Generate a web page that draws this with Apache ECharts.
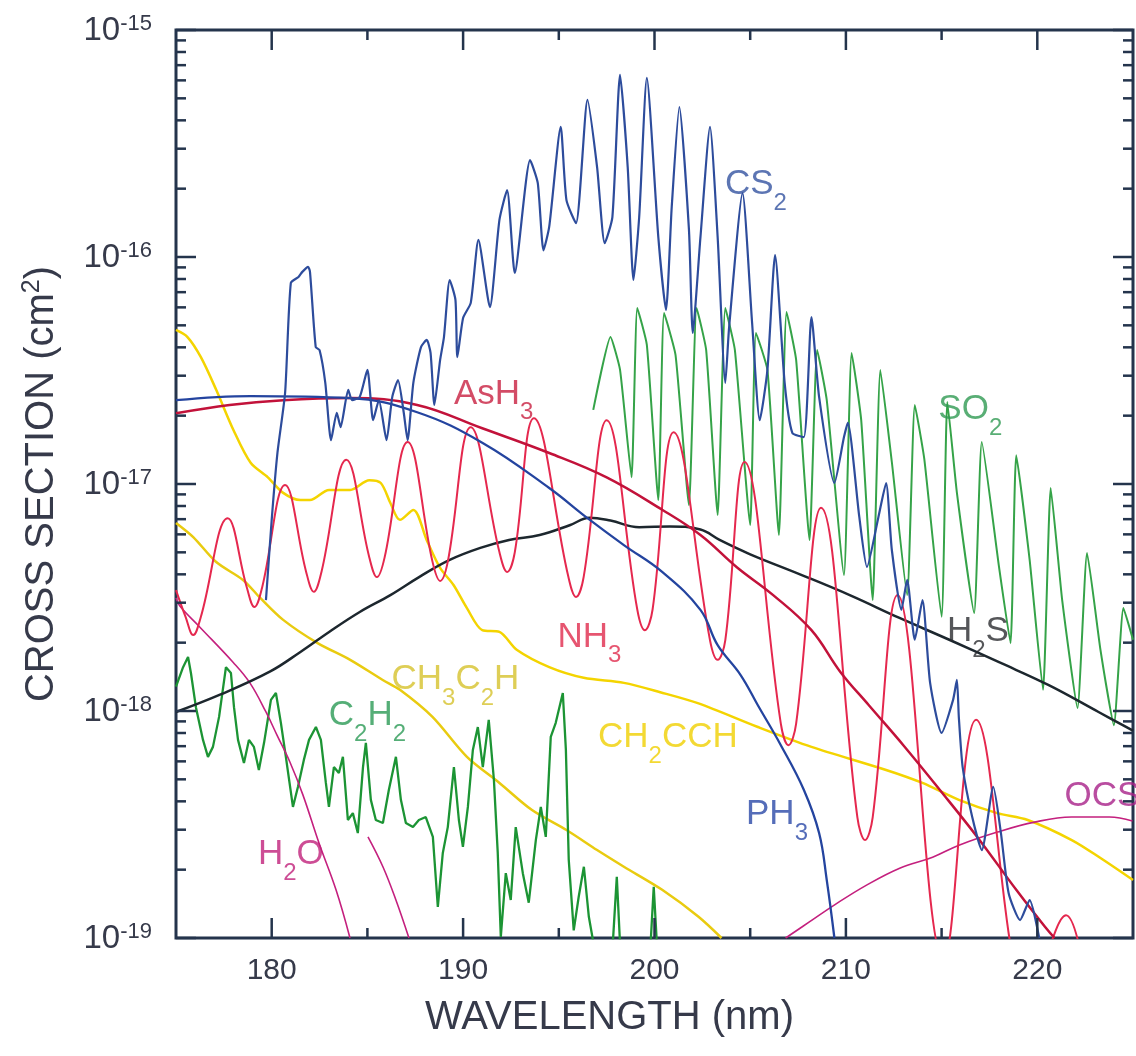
<!DOCTYPE html>
<html>
<head>
<meta charset="utf-8">
<script src="https://cdn.jsdelivr.net/npm/echarts@6/dist/echarts.min.js"></script>
<style>
  html, body { margin: 0; padding: 0; background: #ffffff; }
  #chart { width: 1136px; height: 1056px; }
</style>
</head>
<body>
<div id="chart"></div>
<script>
// Absorption cross sections, [wavelength (nm), cross section (cm^2)]
const cs2 = [[179.7,3.08e-18],[180.0,6.95e-18],[180.3,1.37e-17],[180.7,2.52e-17],[181.0,7.69e-17],[181.4,8.17e-17],[181.6,8.6e-17],[181.9,9.05e-17],[182.0,8.6e-17],[182.3,4.01e-17],[182.5,3.89e-17],[182.8,2.79e-17],[183.1,1.56e-17],[183.4,2.06e-17],[183.6,1.78e-17],[184.0,2.60e-17],[184.2,2.34e-17],[184.6,2.42e-17],[185.0,3.18e-17],[185.3,1.91e-17],[185.6,2.34e-17],[186.0,1.56e-17],[186.3,2.42e-17],[186.6,2.87e-17],[186.9,2.06e-17],[187.1,1.56e-17],[187.4,2.79e-17],[187.8,4.01e-17],[188.1,4.31e-17],[188.3,3.78e-17],[188.5,2.23e-17],[188.8,3.52e-17],[189.0,4.44e-17],[189.3,7.92e-17],[189.6,6.47e-17],[189.7,3.62e-17],[190.0,5.39e-17],[190.4,6.28e-17],[190.8,1.19e-16],[191.4,6.02e-17],[191.9,1.46e-16],[192.3,1.97e-16],[192.7,8.5e-17],[193.5,2.67e-16],[193.9,2.12e-16],[194.2,1.07e-16],[194.5,1.36e-16],[195.1,3.74e-16],[195.4,1.78e-16],[195.9,1.41e-16],[196.5,4.92e-16],[197.0,2.49e-16],[197.4,1.15e-16],[197.8,1.50e-16],[198.2,6.34e-16],[198.6,2.49e-16],[198.9,7.92e-17],[199.2,1.50e-16],[199.6,6.15e-16],[200.2,1.22e-16],[200.6,5.84e-17],[200.9,1.66e-16],[201.3,4.58e-16],[201.8,1.32e-16],[202.0,4.63e-17],[202.4,1.22e-16],[202.9,3.74e-16],[203.3,1.22e-16],[203.7,2.79e-17],[203.9,4.92e-17],[204.6,1.91e-16],[205.1,5.12e-17],[205.5,1.91e-17],[205.9,3.18e-17],[206.3,1.02e-16],[206.8,2.79e-17],[207.2,1.68e-17],[207.8,1.61e-17],[208.2,5.44e-17],[208.6,2.42e-17],[209.4,1.01e-17],[209.9,1.61e-17],[210.1,1.86e-17],[210.7,7.16e-18],[211.1,4.31e-18],[211.7,7.16e-18],[212.1,1.01e-17],[212.4,5.12e-18],[212.9,2.79e-18],[213.2,3.78e-18],[213.6,2.06e-18],[214.0,3.08e-18],[214.4,1.33e-18],[215.0,8.01e-19],[215.6,1.12e-18],[215.8,1.37e-18],[215.9,9.4e-19],[216.1,5.66e-19],[216.6,3.41e-19],[217.1,2.44e-19],[217.7,4.63e-19],[218.1,2.90e-19],[218.5,1.58e-19],[219.1,1.20e-19],[219.6,1.47e-19],[220.1,1.0e-19]];

const so2 = [[196.8,2.12e-17],[197.7,4.44e-17],[198.2,3.18e-17],[198.8,1.07e-17],[199.1,5.96e-17],[199.6,4.10e-17],[200.2,8.5e-18],[200.5,5.66e-17],[201.1,3.70e-17],[201.8,8.08e-18],[202.2,5.96e-17],[202.7,3.89e-17],[203.3,7.30e-18],[203.7,5.96e-17],[204.2,3.89e-17],[205.0,6.6e-18],[205.3,4.63e-17],[205.9,3.18e-17],[206.5,5.96e-18],[206.9,5.72e-17],[207.4,3.52e-17],[208.1,5.66e-18],[208.5,3.89e-17],[209.0,2.34e-17],[209.9,3.97e-18],[210.3,3.78e-17],[210.8,1.91e-17],[211.4,3.08e-18],[211.8,3.18e-17],[212.4,1.25e-17],[213.2,3.24e-18],[213.6,2.23e-17],[214.1,1.28e-17],[215.0,2.60e-18],[215.3,2.30e-17],[215.8,9.14e-18],[216.7,2.70e-18],[217.1,1.53e-17],[218.0,4.31e-18],[218.6,1.99e-18],[218.9,1.34e-17],[219.6,4.63e-18],[220.3,1.24e-18],[220.7,9.6e-18],[221.3,3.08e-18],[222.1,1.03e-18],[222.6,4.97e-18],[223.3,1.86e-18],[224.0,8.66e-19],[224.5,2.84e-18],[225.0,2.06e-18]];

const ash3 = [[175.0,2.05e-17],[177.8,2.23e-17],[180.6,2.34e-17],[184.1,2.39e-17],[187.6,2.23e-17],[191.0,1.76e-17],[194.5,1.37e-17],[197.5,1.07e-17],[200.4,7.7e-18],[202.4,5.96e-18],[204.3,4.3e-18],[206.2,3.24e-18],[208.2,2.27e-18],[209.7,1.49e-18],[211.2,1.06e-18],[213.0,7.07e-19],[214.9,4.5e-19],[216.9,2.76e-19],[218.9,1.63e-19],[220.4,1.12e-19],[220.9,1.0e-19]];

const ph3 = [[175.0,2.34e-17],[178.9,2.44e-17],[184.1,2.39e-17],[187.6,2.07e-17],[191.0,1.52e-17],[194.5,9.6e-18],[196.5,7.07e-18],[198.4,5.38e-18],[200.4,4.1e-18],[202.4,2.79e-18],[203.3,1.95e-18],[204.5,1.44e-18],[205.4,1.06e-18],[206.6,7.07e-19],[207.8,4.5e-19],[208.6,2.9e-19],[209.0,1.8e-19],[209.4,1.0e-19]];

const nh3 = [[175.0,3.41e-18],[175.5,2.6e-18],[175.9,2.16e-18],[176.3,2.6e-18],[177.7,7.07e-18],[178.7,3.5e-18],[179.1,2.87e-18],[179.5,3.5e-18],[180.7,9.9e-18],[181.8,4.1e-18],[182.2,3.35e-18],[182.6,4.1e-18],[183.9,1.28e-17],[185.1,4.75e-18],[185.5,3.89e-18],[185.9,4.75e-18],[187.1,1.53e-17],[188.4,4.55e-18],[188.8,3.74e-18],[189.2,4.55e-18],[190.4,1.78e-17],[191.9,5.0e-18],[192.3,4.10e-18],[192.7,5.0e-18],[193.7,1.95e-17],[195.5,3.9e-18],[195.9,3.18e-18],[196.3,3.9e-18],[197.5,1.91e-17],[199.1,2.8e-18],[199.5,2.27e-18],[199.9,2.8e-18],[201.0,1.69e-17],[202.9,2.05e-18],[203.3,1.68e-18],[203.7,2.05e-18],[204.7,1.25e-17],[206.6,8.8e-19],[207.0,7.07e-19],[207.4,8.8e-19],[208.7,7.85e-18],[210.6,3.4e-19],[211.0,2.70e-19],[211.4,3.4e-19],[212.7,3.24e-18],[215.1,8.0e-20],[216.8,9.14e-19],[219.6,5.3e-20],[221.5,1.26e-19],[222.7,5.3e-20]];

const h2s = [[175.0,9.9e-19],[177.3,1.18e-18],[179.9,1.49e-18],[181.5,1.82e-18],[183.0,2.23e-18],[184.6,2.73e-18],[186.2,3.24e-18],[187.7,3.89e-18],[189.3,4.63e-18],[190.9,5.23e-18],[192.4,5.67e-18],[194.0,5.96e-18],[195.6,6.6e-18],[196.6,7.1e-18],[197.7,6.9e-18],[199.2,6.45e-18],[200.8,6.5e-18],[202.4,6.3e-18],[203.4,5.67e-18],[205.0,4.9e-18],[207.6,4.0e-18],[210.2,3.24e-18],[212.8,2.57e-18],[215.4,2.06e-18],[218.0,1.64e-18],[220.6,1.30e-18],[223.2,9.9e-19],[225.0,8.2e-19]];

const ch2cch = [[175.0,4.77e-17],[175.6,4.44e-17],[176.3,3.62e-17],[177.1,2.60e-17],[178.0,1.73e-17],[178.9,1.24e-17],[179.8,1.07e-17],[180.6,9.14e-18],[181.5,8.5e-18],[182.0,8.5e-18],[183.0,9.42e-18],[184.1,9.42e-18],[185.1,1.04e-17],[185.7,1.01e-17],[186.2,8.25e-18],[186.7,6.95e-18],[187.4,7.69e-18],[188.1,5.66e-18],[188.8,4.27e-18],[189.5,3.59e-18],[190.2,2.84e-18],[191.0,2.27e-18],[191.9,2.23e-18],[192.8,1.86e-18],[194.5,1.56e-18],[196.3,1.40e-18],[198.4,1.33e-18],[200.3,1.21e-18],[202.3,1.08e-18],[205.4,8.5e-19],[208.2,6.95e-19],[212.1,5.5e-19],[214.0,4.82e-19],[215.9,4.06e-19],[217.9,3.55e-19],[219.5,3.31e-19],[221.8,2.70e-19],[223.3,2.25e-19],[225.0,1.80e-19]];

const ch3c2h = [[175.0,6.74e-18],[175.9,5.84e-18],[177.1,4.53e-18],[178.5,3.78e-18],[179.4,3.15e-18],[180.6,2.52e-18],[182.4,1.99e-18],[184.1,1.68e-18],[185.8,1.37e-18],[186.7,1.24e-18],[188.4,9.42e-19],[190.2,6.28e-19],[191.9,4.82e-19],[193.6,3.66e-19],[195.4,2.99e-19],[197.0,2.44e-19],[198.4,2.06e-19],[200.4,1.63e-19],[202.3,1.24e-19],[203.5,1.0e-19]];

const c2h2 = [[175.00,1.28e-18],[175.37,1.56e-18],[175.63,1.73e-18],[175.78,1.47e-18],[176.04,1.04e-18],[176.41,7.46e-19],[176.67,6.28e-19],[176.93,6.95e-19],[177.25,9.42e-19],[177.61,1.56e-18],[177.87,1.47e-18],[178.03,1.04e-18],[178.24,7.46e-19],[178.55,5.90e-19],[178.81,7.46e-19],[179.07,6.95e-19],[179.33,5.50e-19],[179.60,7.24e-19],[179.96,1.12e-18],[180.22,1.20e-18],[180.48,8.87e-19],[180.74,6.28e-19],[181.11,3.78e-19],[181.37,4.63e-19],[181.68,6.09e-19],[181.95,7.46e-19],[182.31,8.50e-19],[182.57,7.46e-19],[182.83,4.82e-19],[182.99,3.78e-19],[183.25,5.66e-19],[183.51,5.33e-19],[183.72,6.28e-19],[183.98,3.31e-19],[184.24,3.55e-19],[184.50,2.90e-19],[184.77,5.66e-19],[184.92,7.24e-19],[185.18,4.06e-19],[185.44,3.31e-19],[185.81,3.21e-19],[186.12,4.49e-19],[186.49,6.28e-19],[186.75,4.06e-19],[187.01,3.21e-19],[187.38,3.08e-19],[187.69,3.31e-19],[188.05,3.41e-19],[188.42,2.79e-19],[188.68,1.37e-19],[188.94,2.37e-19],[189.20,3.08e-19],[189.52,5.66e-19],[189.78,3.31e-19],[189.99,2.52e-19],[190.25,3.78e-19],[190.51,6.74e-19],[190.77,8.50e-19],[191.03,5.66e-19],[191.34,9.14e-19],[191.61,4.97e-19],[191.81,2.37e-19],[191.97,1.01e-19],[192.23,1.93e-19],[192.49,1.47e-19],[192.75,3.08e-19],[193.12,1.93e-19],[193.43,1.43e-19],[193.80,2.70e-19],[194.06,3.78e-19],[194.32,2.79e-19],[194.58,7.69e-19],[194.84,8.87e-19],[195.21,1.20e-18],[195.37,6.74e-19],[195.52,2.21e-19],[195.78,1.08e-19],[196.04,1.52e-19],[196.31,2.06e-19],[196.57,1.24e-19],[196.83,9.3e-20],[197.77,8.0e-20],[198.03,1.86e-19],[198.24,8.0e-20],[199.75,8.0e-20],[199.96,1.68e-19],[200.17,8.0e-20]];

const h2o = [[175.0,3.15e-18],[175.2,2.90e-18],[176.25,2.34e-18],[177.98,1.64e-18],[178.86,1.33e-18],[179.70,9.9e-19],[180.27,7.85e-19],[180.95,5.96e-19],[181.63,4.27e-19],[182.47,2.62e-19],[183.36,1.63e-19],[184.09,1.0e-19]];
const h2oTail = [[185.03,2.79e-19],[185.81,2.06e-19],[186.49,1.47e-19],[187.17,1.0e-19]];

const ocs = [[206.85,1.0e-19],[208.11,1.18e-19],[209.41,1.40e-19],[211.08,1.71e-19],[212.81,2.03e-19],[214.53,2.27e-19],[215.94,2.57e-19],[217.92,2.93e-19],[219.86,3.24e-19],[221.79,3.41e-19],[223.77,3.41e-19],[224.97,3.28e-19]];

// Axis ticks
const xMajorTicks = [180, 190, 200, 210, 220];
const xMinorTicks = [185, 195, 205, 215];
const decadeTicks = [1e-19, 1e-18, 1e-17, 1e-16, 1e-15];
const minorMantissas = [2, 3, 4, 5, 6, 7, 8, 9];

// Curve names: [text, subscript?] parts, anchor wavelength, anchor cross section, colour
const curveLabels = [
  { parts: [['CS', 0], ['2', 1]], x: 205.3, y: 2.07e-16, color: '#3352a0' },
  { parts: [['SO', 0], ['2', 1]], x: 216.5, y: 2.12e-17, color: '#2f9a52' },
  { parts: [['AsH', 0], ['3', 1]], x: 191.6, y: 2.47e-17, color: '#c81f40' },
  { parts: [['NH', 0], ['3', 1]], x: 196.6, y: 2.10e-18, color: '#e02a4c' },
  { parts: [['H', 0], ['2', 1], ['S', 0]], x: 216.9, y: 2.23e-18, color: '#2a2c30' },
  { parts: [['CH', 0], ['3', 1], ['C', 0], ['2', 1], ['H', 0]], x: 189.6, y: 1.37e-18, color: '#d6c22c' },
  { parts: [['CH', 0], ['2', 1], ['CCH', 0]], x: 200.7, y: 7.6e-19, color: '#f0d000' },
  { parts: [['C', 0], ['2', 1], ['H', 0], ['2', 1]], x: 185.0, y: 9.5e-19, color: '#2a9a55' },
  { parts: [['PH', 0], ['3', 1]], x: 206.4, y: 3.48e-19, color: '#2a48a8' },
  { parts: [['H', 0], ['2', 1], ['O', 0]], x: 181.0, y: 2.32e-19, color: '#c0207a' },
  { parts: [['OCS', 0]], x: 223.4, y: 4.18e-19, color: '#a82088' }
];

// Plot in units of 1e-19 cm^2 so the log scale works with comfortable numbers.
const UNIT = 1e-19;
const X_MIN = 175, X_MAX = 225;
const Y_MIN = 1e-19 / UNIT, Y_MAX = 1e-15 / UNIT;
const FONT = '"Liberation Sans", Arial, Helvetica, sans-serif';
const AXIS_COLOR = '#24344c';
const TEXT_COLOR = '#363a4a';

const toPlot = arr => arr.map(p => [p[0], p[1] / UNIT]);

function curve(name, data, color, width, smooth, z) {
  return {
    name: name, type: 'line', data: toPlot(data), symbol: 'none', showSymbol: false,
    smooth: smooth, clip: true, silent: true, z: z,
    lineStyle: { color: color, width: width }, itemStyle: { color: color }
  };
}

// Tick marks drawn inward on all four sides
const tickData = [];
xMajorTicks.forEach(v => tickData.push([v, Y_MIN, 0]));
xMinorTicks.forEach(v => tickData.push([v, Y_MIN, 1]));
decadeTicks.forEach(v => tickData.push([X_MIN, v / UNIT, 2]));
decadeTicks.slice(0, -1).forEach(d => minorMantissas.forEach(m => tickData.push([X_MIN, m * d / UNIT, 3])));

function renderTick(params, api) {
  const kind = api.value(2);
  const style = { stroke: AXIS_COLOR, lineWidth: 2.5 };
  let a, b, l1, l2;
  if (kind < 2) {
    const len = kind === 0 ? 20 : 10;
    a = api.coord([api.value(0), Y_MIN]);
    b = api.coord([api.value(0), Y_MAX]);
    l1 = { x1: a[0], y1: a[1], x2: a[0], y2: a[1] - len };
    l2 = { x1: b[0], y1: b[1], x2: b[0], y2: b[1] + len };
  } else {
    const len = kind === 2 ? 20 : 10;
    a = api.coord([X_MIN, api.value(1)]);
    b = api.coord([X_MAX, api.value(1)]);
    l1 = { x1: a[0], y1: a[1], x2: a[0] + len, y2: a[1] };
    l2 = { x1: b[0], y1: b[1], x2: b[0] - len, y2: b[1] };
  }
  return { type: 'group', children: [
    { type: 'line', shape: l1, style: style },
    { type: 'line', shape: l2, style: style }
  ] };
}

const labelRich = {
  n: { fontSize: 35, lineHeight: 36, verticalAlign: 'top', fontFamily: FONT },
  s: { fontSize: 24, lineHeight: 24, verticalAlign: 'top', padding: [24, 0, 0, 0], fontFamily: FONT }
};

const labelSeries = {
  type: 'scatter', symbolSize: 1, silent: true, z: 30,
  itemStyle: { color: 'rgba(0,0,0,0)' },
  data: curveLabels.map(l => ({
    value: [l.x, l.y / UNIT],
    label: {
      show: true, position: 'inside', color: l.color,
      formatter: l.parts.map(p => '{' + (p[1] ? 's' : 'n') + '|' + p[0] + '}').join(''),
      rich: labelRich
    }
  }))
};

const chart = echarts.init(document.getElementById('chart'), null, { renderer: 'canvas' });
chart.setOption({
  animation: false,
  backgroundColor: '#ffffff',
  grid: { left: 176, right: 3, top: 30, bottom: 118, show: true, borderColor: AXIS_COLOR, borderWidth: 3, backgroundColor: 'transparent' },
  xAxis: {
    type: 'value', min: X_MIN, max: X_MAX, interval: 5,
    axisLine: { show: false }, axisTick: { show: false }, splitLine: { show: false },
    axisLabel: {
      margin: 18, color: TEXT_COLOR, fontSize: 30, fontFamily: FONT,
      formatter: v => (v % 10 === 0 && v > X_MIN && v < X_MAX) ? String(v) : ''
    },
    name: 'WAVELENGTH (nm)', nameLocation: 'middle', nameGap: 60,
    nameTextStyle: { color: TEXT_COLOR, fontSize: 40, fontFamily: FONT, padding: [0, 90, 0, 0] }
  },
  yAxis: {
    type: 'log', logBase: 10, min: Y_MIN, max: Y_MAX,
    axisLine: { show: false }, axisTick: { show: false }, splitLine: { show: false },
    axisLabel: {
      margin: 24, color: TEXT_COLOR,
      formatter: v => '{b|10}{s|' + Math.round(Math.log10(v * UNIT)) + '}',
      rich: {
        b: { fontSize: 33, lineHeight: 34, verticalAlign: 'bottom', fontFamily: FONT, color: TEXT_COLOR },
        s: { fontSize: 22, lineHeight: 22, verticalAlign: 'top', padding: [0, 0, 16, 0], fontFamily: FONT, color: TEXT_COLOR }
      }
    },
    name: '{n|CROSS SECTION (cm}{p|2}{n|)}', nameLocation: 'middle', nameGap: 114, nameRotate: 90,
    nameTextStyle: {
      color: TEXT_COLOR, fontFamily: FONT,
      rich: {
        n: { fontSize: 40, lineHeight: 42, verticalAlign: 'bottom', fontFamily: FONT, color: TEXT_COLOR },
        p: { fontSize: 25, lineHeight: 25, verticalAlign: 'top', padding: [0, 0, 15, 0], fontFamily: FONT, color: TEXT_COLOR }
      }
    }
  },
  series: [
    curve('CH3C2H', ch3c2h, '#e9cb10', 2.5, 0.3, 2),
    curve('CH2CCH', ch2cch, '#f4d400', 2.5, 0.3, 2),
    curve('C2H2', c2h2, '#1c9434', 2.3, false, 3),
    curve('SO2', so2, '#35a348', 2, 0.15, 3),
    curve('H2O', h2o, '#c4207e', 1.6, 0.4, 4),
    curve('H2O', h2oTail, '#c4207e', 1.6, 0.4, 4),
    curve('OCS', ocs, '#c4207e', 1.6, 0.4, 4),
    curve('H2S', h2s, '#1d272e', 2.5, 0.4, 5),
    curve('NH3', nh3, '#e5284e', 2, 0.4, 5),
    curve('AsH3', ash3, '#c2123a', 2.5, 0.4, 6),
    curve('PH3', ph3, '#24449f', 2.3, 0.4, 6),
    curve('CS2', cs2, '#2d4c9c', 2.2, 0.2, 7),
    labelSeries,
    {
      type: 'custom', data: tickData, renderItem: renderTick, silent: true, clip: false, z: 40,
      encode: { x: 0, y: 1 }
    }
  ]
});
</script>
</body>
</html>
